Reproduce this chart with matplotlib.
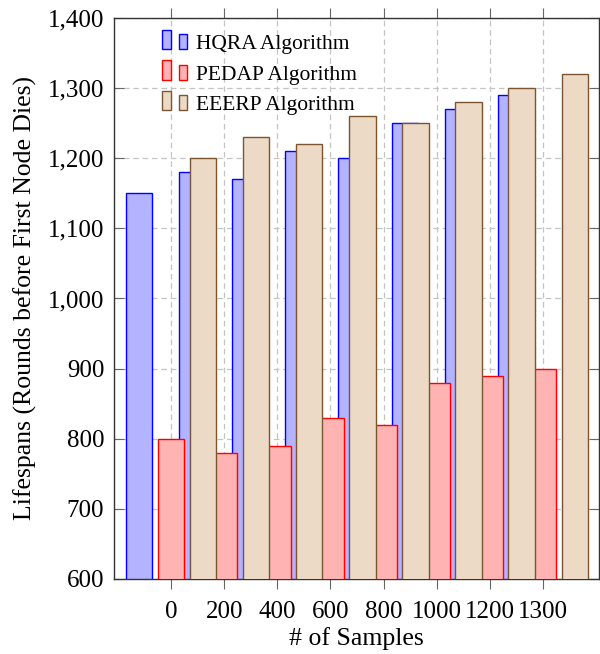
import numpy as np
import matplotlib
matplotlib.use("Agg")
import matplotlib.pyplot as plt
from matplotlib.patches import Rectangle
from matplotlib.legend_handler import HandlerBase

plt.rcParams['font.family'] = ['Liberation Serif', 'DejaVu Serif']

# data
samples = ['0', '200', '400', '600', '800', '1000', '1200', '1300']
hqra = [1150, 1180, 1170, 1210, 1200, 1250, 1270, 1290]
pedap = [800, 780, 790, 830, 820, 880, 890, 900]
eeerp = [1200, 1230, 1220, 1260, 1250, 1280, 1300, 1320]
yticks = [600, 700, 800, 900, 1000, 1100, 1200, 1300, 1400]
ytick_labels = ['600', '700', '800', '900', '1,000', '1,100', '1,200', '1,300', '1,400']


# pgfplots style legend: two little bars
class TwoBars(HandlerBase):
    def create_artists(self, legend, orig_handle, xdescent, ydescent,
                       width, height, fontsize, trans):
        fc = orig_handle.get_facecolor()
        ec = orig_handle.get_edgecolor()
        x0, y0 = -xdescent, 0
        r1 = Rectangle((x0, y0), 0.36 * width, height,
                       facecolor=fc, edgecolor=ec, lw=1.0, transform=trans)
        r2 = Rectangle((x0 + 0.67 * width, y0), 0.33 * width, 0.78 * height,
                       facecolor=fc, edgecolor=ec, lw=1.0, transform=trans)
        return [r1, r2]


fig = plt.figure(figsize=(6, 6.54), dpi=100)
ax = fig.add_axes([0.19, 0.1147, 0.8083, 0.8578])

x = np.arange(len(samples))
w = 0.5
b1 = ax.bar(x - 0.6, hqra, w, color='#b3b3ff', edgecolor='blue', lw=1.0, zorder=2)
b2 = ax.bar(x, pedap, w, color='#ffb3b3', edgecolor='red', lw=1.0, zorder=3)
b3 = ax.bar(x + 0.6, eeerp, w, color='#ecd9c6', edgecolor='#7a5530', lw=1.0, zorder=4)

ax.set_xlim(-1.073, 8.054)
ax.set_ylim(600, 1400)
ax.set_xticks(x)
ax.set_xticklabels(samples)
ax.set_yticks(yticks)
ax.set_yticklabels(ytick_labels)

ax.grid(True, color='#c4c4c4', linestyle=(0, (4.5, 3)), lw=0.9, zorder=0)
ax.set_axisbelow(True)

ax.tick_params(axis='x', direction='out', top=True, bottom=True, length=7.5,
               width=0.8, color='#666666', labelsize=18, pad=8)
ax.tick_params(axis='y', direction='in', left=True, right=True, length=7.5,
               width=0.8, color='#666666', labelsize=18, pad=7)
for s in ax.spines.values():
    s.set_color('#333333')
    s.set_linewidth(1.0)

ax.set_xlabel('# of Samples', fontsize=18.5, labelpad=3)
ax.set_ylabel('Lifespans (Rounds before First Node Dies)', fontsize=18.5, labelpad=8)

ax.legend([b1[0], b2[0], b3[0]],
          ['HQRA Algorithm', 'PEDAP Algorithm', 'EEERP Algorithm'],
          handler_map={Rectangle: TwoBars()},
          loc='upper left', bbox_to_anchor=(0.099, 0.975), frameon=False,
          fontsize=15.5, borderpad=0, borderaxespad=0, handlelength=1.15,
          handleheight=1.0, handletextpad=0.45, labelspacing=0.4)

fig.savefig('out.png', dpi=100)
